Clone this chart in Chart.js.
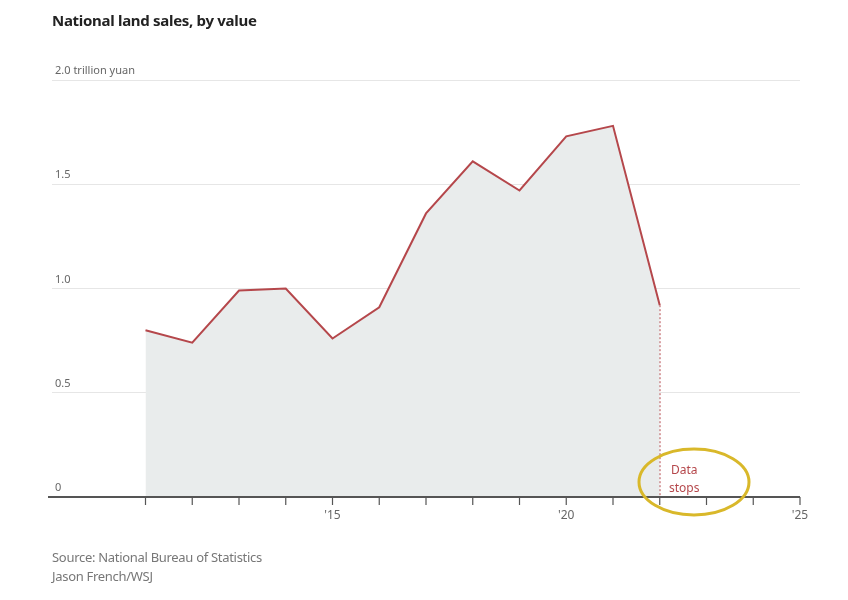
<!DOCTYPE html>
<html><head><meta charset="utf-8">
<script src="https://cdn.jsdelivr.net/npm/chart.js@4"></script>
<style>
body{margin:0;background:#fff;font-family:"Liberation Sans Narrow","Noto Sans",sans-serif;}
#t{position:absolute;left:52px;top:10px;font:bold 15px "Noto Sans",sans-serif;color:#222;letter-spacing:-0.3px}
#s{position:absolute;left:52px;top:548px;font:13px "Noto Sans",sans-serif;color:#777;line-height:19px;letter-spacing:-0.3px}
#w{position:absolute;left:0;top:0;width:848px;height:600px}
</style></head><body>
<div id="w"><canvas id="c"></canvas></div>
<div id="t">National land sales, by value</div>
<div id="s">Source: National Bureau of Statistics<br>Jason French/WSJ</div>
<script>
const years=[2011,2012,2013,2014,2015,2016,2017,2018,2019,2020,2021,2022];
const values=[0.80,0.74,0.99,1.00,0.76,0.91,1.36,1.61,1.47,1.73,1.78,0.92];
const yTicks=[0,0.5,1.0,1.5,2.0];
const yLabels=["0","0.5","1.0","1.5","2.0 trillion yuan"];
const xTickYears=[2015,2020,2025];
const xLabels=["'15","'20","'25"];
const lastYear=years[years.length-1], lastVal=values[values.length-1];
const deco={id:'deco',afterDraw(ch){
 const c=ch.ctx,x=ch.scales.x,y=ch.scales.y;const y0=y.getPixelForValue(0);
 c.save();
 c.strokeStyle='#555';c.lineWidth=2;c.beginPath();c.moveTo(48,y0);c.lineTo(x.right,y0);c.stroke();
 c.lineWidth=1.2;
 for(let yr=2011;yr<=2025;yr++){const px=x.getPixelForValue(yr);c.beginPath();c.moveTo(px,y0);c.lineTo(px,y0+8);c.stroke();}
 c.fillStyle='#666';c.font='12px "Noto Sans",sans-serif';c.textAlign='center';
 xTickYears.forEach((v,i)=>c.fillText(xLabels[i],x.getPixelForValue(v),y0+22));
 c.textAlign='left';c.font='11px "Noto Sans",sans-serif';
 yTicks.forEach((v,i)=>c.fillText(yLabels[i],55,y.getPixelForValue(v)-6));
 c.fillStyle='#b5474b';c.font='12px "Noto Sans",sans-serif';
 c.fillText('Data',671,474);c.fillText('stops',669,492);
 c.strokeStyle='#d9b82a';c.lineWidth=3;c.beginPath();c.ellipse(694,482,55,33,0,0,Math.PI*2);c.stroke();
 c.restore();
}};
new Chart(document.getElementById('c'),{
 type:'line',
 data:{datasets:[
  {data:years.map((y,i)=>({x:y,y:values[i]})),borderColor:'#b5474b',borderWidth:2,fill:'origin',backgroundColor:'#e9ecec',pointRadius:0,tension:0},
  {data:[{x:lastYear,y:lastVal},{x:lastYear,y:0}],borderColor:'#b5474b',borderWidth:1.5,borderDash:[2,2],pointRadius:0,fill:false}
 ]},
 options:{responsive:true,maintainAspectRatio:false,animation:false,
  layout:{padding:{left:52,right:48,top:80,bottom:103}},
  plugins:{legend:{display:false},tooltip:{enabled:false}},
  scales:{
   x:{type:'linear',min:2009,max:2025,ticks:{display:false},grid:{display:false,drawTicks:false},border:{display:false}},
   y:{min:0,max:2,ticks:{display:false,stepSize:0.5},grid:{color:'#e6e6e6',drawTicks:false},border:{display:false}}
  }},
 plugins:[deco]
});
</script></body></html>
